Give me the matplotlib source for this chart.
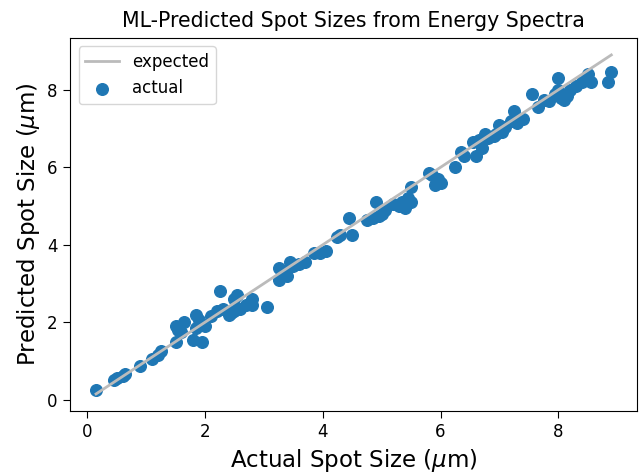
import numpy as np
import matplotlib.pyplot as plt

# actual vs predicted spot sizes (um)
actual = [0.15, 0.45, 0.5, 0.6, 0.65, 0.9, 1.1, 1.2, 1.25,
          1.5, 1.5, 1.55, 1.6, 1.65, 1.8, 1.85, 1.9, 1.95, 2.0, 1.85,
          2.1, 2.2, 2.25, 2.3, 2.4, 2.45, 2.5, 2.5, 2.55, 2.6, 2.7, 2.8, 2.8, 3.05,
          3.25, 3.25, 3.35, 3.4, 3.45, 3.5, 3.6, 3.7,
          3.85, 3.95, 4.05, 4.25, 4.3, 4.45, 4.5,
          4.75, 4.85, 4.9, 4.95, 5.0, 5.05,
          5.2, 5.3, 5.35, 5.4, 5.45, 5.5, 5.5,
          5.8, 5.85, 5.9, 5.95, 6.0,
          6.25, 6.35, 6.4, 6.55, 6.6, 6.65, 6.7, 6.75, 6.8, 6.9, 6.95, 7.05, 7.0,
          7.1, 7.2, 7.25, 7.3, 7.4,
          7.55, 7.65, 7.75, 7.85, 7.95, 8.0, 8.0, 8.05, 8.1, 8.15, 8.2, 8.3, 8.4,
          8.5, 8.55, 8.85, 8.9]
predicted = [0.25, 0.5, 0.55, 0.62, 0.67, 0.87, 1.05, 1.15, 1.25,
             1.5, 1.9, 1.8, 1.75, 2.0, 1.55, 2.2, 2.05, 1.5, 1.9, 1.85,
             2.15, 2.3, 2.8, 2.35, 2.2, 2.25, 2.6, 2.3, 2.7, 2.35, 2.45, 2.45, 2.6, 2.4,
             3.1, 3.4, 3.3, 3.2, 3.55, 3.45, 3.5, 3.55,
             3.8, 3.8, 3.85, 4.2, 4.25, 4.7, 4.25,
             4.65, 4.7, 5.1, 4.75, 4.8, 4.9,
             5.05, 5.0, 5.1, 4.95, 5.2, 5.1, 5.5,
             5.85, 5.8, 5.55, 5.7, 5.6,
             6.0, 6.4, 6.3, 6.65, 6.3, 6.7, 6.5, 6.85, 6.75, 6.8, 6.85, 6.9, 7.1,
             7.05, 7.2, 7.45, 7.15, 7.25,
             7.9, 7.55, 7.75, 7.7, 7.9, 8.3, 8.0, 7.8, 7.75, 7.85, 8.0, 8.1, 8.2,
             8.4, 8.2, 8.2, 8.45]

actual = np.array(actual)
predicted = np.array(predicted)
line = [actual.min(), actual.max()]

fig, ax = plt.subplots(figsize=(6.39, 4.75), dpi=100)
ax.plot(line, line, color="#bbbbbb", lw=2, label="expected")
ax.scatter(actual, predicted, s=70, color="C0", label="actual")

ax.set_title("ML-Predicted Spot Sizes from Energy Spectra", fontsize=14.8, pad=8)
ax.set_xlabel(r"Actual Spot Size ($\mu$m)", fontsize=16.5)
ax.set_ylabel(r"Predicted Spot Size ($\mu$m)", fontsize=16.5)
ax.tick_params(labelsize=12, length=5, pad=4)
ax.set_xticks([0, 2, 4, 6, 8])
ax.set_yticks([0, 2, 4, 6, 8])
ax.legend(loc="upper left", fontsize=12)

plt.subplots_adjust(left=0.11, right=0.997, top=0.92, bottom=0.135)
plt.savefig("out.png", dpi=100)
